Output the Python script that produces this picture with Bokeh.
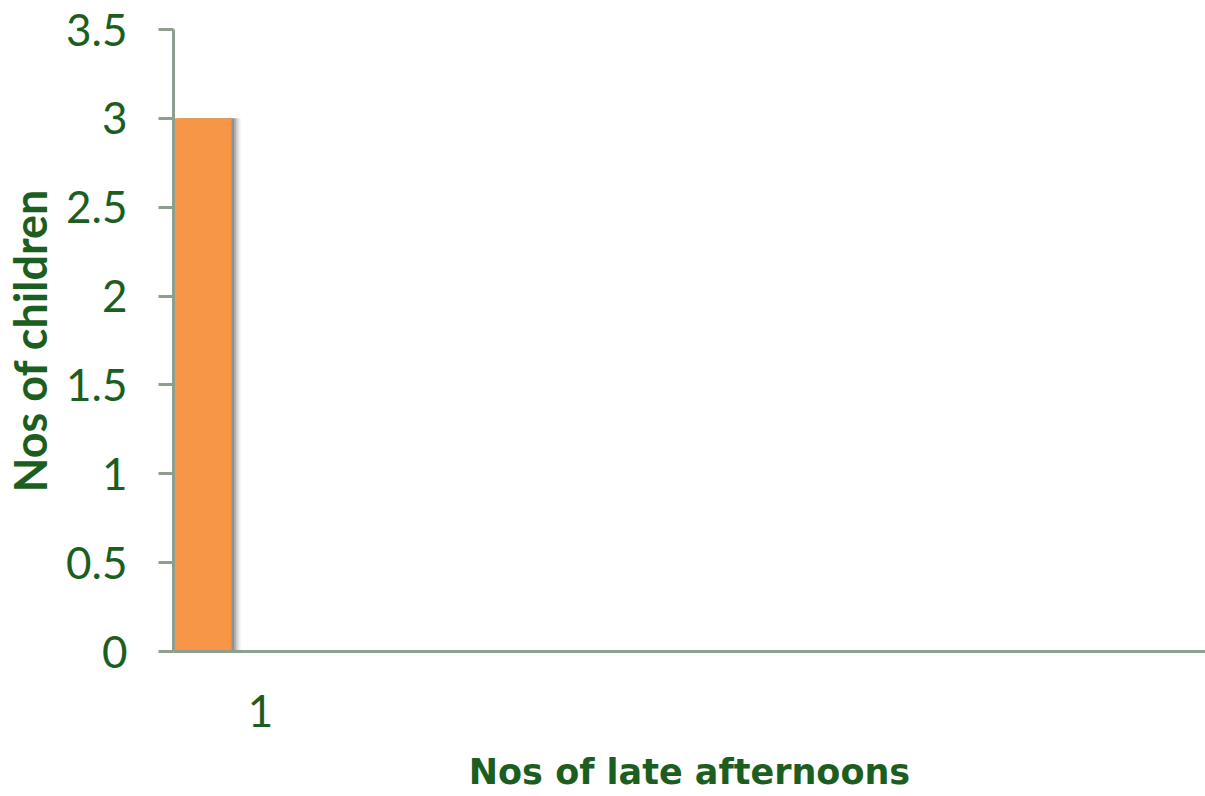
from bokeh.plotting import figure
from bokeh.models import FixedTicker, Range1d, ColumnDataSource
from bokeh.transform import dodge
from bokeh.embed import file_html
from bokeh.resources import INLINE

# ---- data ----
categories = ["1"]
cat_positions = [0.5]          # centre of each category slot
series_values = [3]
y_ticks = [0, 0.5, 1, 1.5, 2, 2.5, 3, 3.5]
y_tick_labels = ["0", "0.5", "1", "1.5", "2", "2.5", "3", "3.5"]
x_title = "Nos of late afternoons"
y_title = "Nos of children"

TEXT = "#1B5E20"
AXIS = "#8F9F8F"
BAR = "#F79646"
FONT = "Lato"

W, H = 1205, 796
LEFT, TOP = 173, 29
FRAME_W, FRAME_H = W - LEFT, 651 - TOP
slot_px = 174.0
x_end = FRAME_W / slot_px

p = figure(frame_width=FRAME_W, frame_height=FRAME_H, output_backend="svg",
           toolbar_location=None,
           x_range=Range1d(0, x_end), y_range=Range1d(0, 3.5),
           min_border_left=LEFT, min_border_right=0,
           min_border_top=TOP, min_border_bottom=0)
p.outline_line_color = None
p.xgrid.visible = False
p.ygrid.visible = False
p.background_fill_color = "white"
p.border_fill_color = "white"

src = ColumnDataSource(dict(x=cat_positions, top=series_values, cat=categories))
bar_w = 1.0 / 3
# soft shadow layers
for k, a in [(0.055, 0.05), (0.045, 0.09), (0.035, 0.14), (0.025, 0.2), (0.015, 0.26)]:
    p.vbar(x=dodge("x", -bar_w + k, range=p.x_range), top="top", bottom=0,
           width=bar_w, source=src, fill_color="#3a3a3a", fill_alpha=a, line_color=None)
p.vbar(x=dodge("x", -bar_w, range=p.x_range), top="top", bottom=0, width=bar_w,
       source=src, fill_color=BAR, line_color=None)

# y axis
ya = p.yaxis[0]
ya.ticker = FixedTicker(ticks=y_ticks)
ya.major_label_overrides = {t: l for t, l in zip(y_ticks, y_tick_labels)}
ya.minor_tick_line_color = None
ya.major_tick_out = 15
ya.major_tick_in = 0
ya.major_tick_line_color = AXIS
ya.major_tick_line_width = 3
ya.axis_line_color = AXIS
ya.axis_line_width = 3
ya.major_label_text_font = FONT
ya.major_label_text_font_size = "44px"
ya.major_label_text_color = TEXT
ya.major_label_standoff = 31
ya.axis_label = y_title
ya.axis_label_text_font = FONT
ya.axis_label_text_font_size = "45px"
ya.axis_label_text_font_style = "bold"
ya.axis_label_text_color = TEXT
ya.axis_label_standoff = 6

# x axis
xa = p.xaxis[0]
xa.ticker = FixedTicker(ticks=cat_positions)
xa.major_label_overrides = {t: c for t, c in zip(cat_positions, categories)}
xa.minor_tick_line_color = None
xa.major_tick_line_color = None
xa.axis_line_color = AXIS
xa.axis_line_width = 3
xa.major_label_text_font = FONT
xa.major_label_text_font_size = "44px"
xa.major_label_text_color = TEXT
xa.major_label_standoff = 37
xa.axis_label = x_title
xa.axis_label_text_font = "DejaVu Sans"
xa.axis_label_text_font_size = "35px"
xa.axis_label_text_font_style = "bold"
xa.axis_label_text_color = TEXT
xa.axis_label_standoff = 22

open("out.html", "w").write(file_html(p, INLINE))
